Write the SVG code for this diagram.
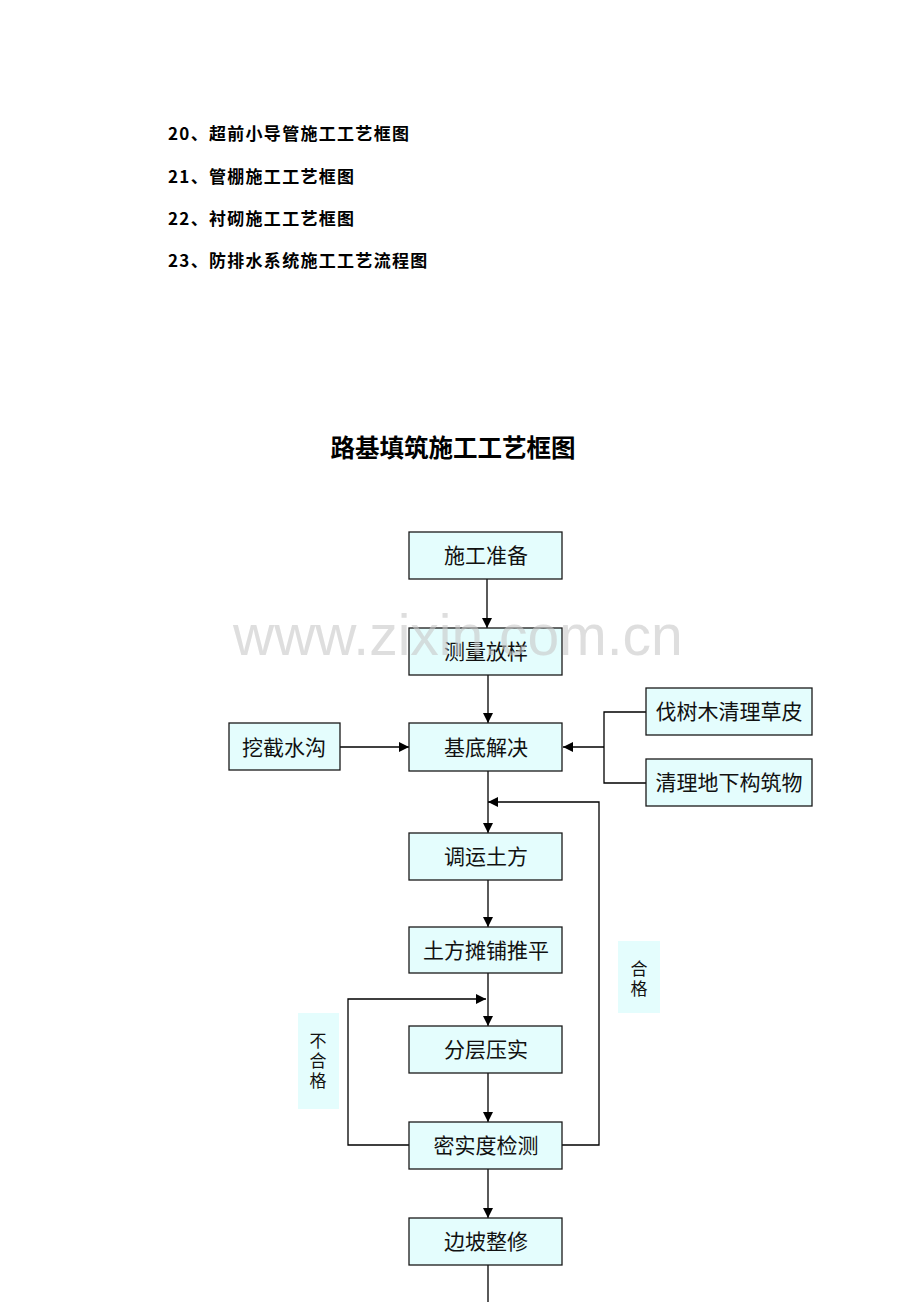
<svg xmlns="http://www.w3.org/2000/svg" width="920" height="1302" viewBox="0 0 920 1302">
<defs>
<style>
.list{font-family:"Noto Sans CJK SC","Liberation Sans",sans-serif;font-size:17px;font-weight:bold;fill:#000;letter-spacing:1.3px}
.title{font-family:"Noto Sans CJK SC",sans-serif;font-size:24.5px;font-weight:bold;fill:#000}
.box{fill:#e4fdfd;stroke:#1a1a1a;stroke-width:1.3}
.bt{font-family:"Noto Sans CJK SC",sans-serif;font-size:21px;fill:#111;text-anchor:middle}
.lbl{fill:#e4fdfd;stroke:none}
.lt{font-family:"Noto Sans CJK SC",sans-serif;font-size:17px;fill:#111;text-anchor:middle}
.ln{fill:none;stroke:#000;stroke-width:1.3}
.wm{font-family:"Liberation Sans",Arial,sans-serif;font-size:57px;fill:#c8c8c8;fill-opacity:0.6}
</style>
<marker id="ah" viewBox="0 0 10 10" refX="10" refY="5" markerWidth="10" markerHeight="10" markerUnits="userSpaceOnUse" orient="auto">
<path d="M0,0 L10,5 L0,10 z" fill="#000"/>
</marker>
</defs>
<rect width="920" height="1302" fill="#fff"/>
<g id="list">
<text class="list" x="168" y="140">20、超前小导管施工工艺框图</text>
<text class="list" x="168" y="183">21、管棚施工工艺框图</text>
<text class="list" x="168" y="225">22、衬砌施工工艺框图</text>
<text class="list" x="168" y="267">23、防排水系统施工工艺流程图</text>
</g>
<text class="title" x="453" y="457" text-anchor="middle">路基填筑施工工艺框图</text>
<g id="connectors">
<line class="ln" x1="487" y1="579" x2="487" y2="628" marker-end="url(#ah)"/>
<line class="ln" x1="488" y1="675" x2="488" y2="723" marker-end="url(#ah)"/>
<line class="ln" x1="340" y1="747" x2="409" y2="747" marker-end="url(#ah)"/>
<polyline class="ln" points="646,712 604,712 604,783 646,783"/>
<line class="ln" x1="604" y1="747" x2="563" y2="747" marker-end="url(#ah)"/>
<line class="ln" x1="488" y1="771" x2="488" y2="833" marker-end="url(#ah)"/>
<polyline class="ln" points="562,1145 599,1145 599,802 488,802" marker-end="url(#ah)"/>
<line class="ln" x1="488" y1="880" x2="488" y2="927" marker-end="url(#ah)"/>
<line class="ln" x1="488" y1="973" x2="488" y2="1026" marker-end="url(#ah)"/>
<polyline class="ln" points="409,1145 348,1145 348,999 486,999" marker-end="url(#ah)"/>
<line class="ln" x1="488" y1="1073" x2="488" y2="1122" marker-end="url(#ah)"/>
<line class="ln" x1="488" y1="1169" x2="488" y2="1218" marker-end="url(#ah)"/>
<line class="ln" x1="488" y1="1265" x2="488" y2="1302"/>
</g>
<g id="n1"><rect class="box" x="409" y="532" width="153" height="47"/><text class="bt" x="486" y="563">施工准备</text></g>
<g id="n2"><rect class="box" x="409" y="628" width="153" height="47"/><text class="bt" x="486" y="659">测量放样</text></g>
<g id="n3"><rect class="box" x="409" y="723" width="153" height="48"/><text class="bt" x="486" y="755">基底解决</text></g>
<g id="n4"><rect class="box" x="229" y="723" width="111" height="47"/><text class="bt" x="284" y="755">挖截水沟</text></g>
<g id="n5"><rect class="box" x="646" y="688" width="166" height="47"/><text class="bt" x="729" y="719">伐树木清理草皮</text></g>
<g id="n6"><rect class="box" x="646" y="759" width="166" height="47"/><text class="bt" x="729" y="790">清理地下构筑物</text></g>
<g id="n7"><rect class="box" x="409" y="833" width="153" height="47"/><text class="bt" x="486" y="864">调运土方</text></g>
<g id="n8"><rect class="box" x="409" y="927" width="153" height="46"/><text class="bt" x="486" y="958">土方摊铺推平</text></g>
<g id="n9"><rect class="box" x="409" y="1026" width="153" height="47"/><text class="bt" x="486" y="1057">分层压实</text></g>
<g id="n10"><rect class="box" x="409" y="1122" width="153" height="47"/><text class="bt" x="486" y="1153">密实度检测</text></g>
<g id="n11"><rect class="box" x="409" y="1218" width="153" height="47"/><text class="bt" x="486" y="1249">边坡整修</text></g>
<g id="lbl-ok"><rect class="lbl" x="618" y="941" width="42" height="72"/><text class="lt" x="639" y="975">合</text><text class="lt" x="639" y="995">格</text></g>
<g id="lbl-ng"><rect class="lbl" x="298" y="1013" width="41" height="96"/><text class="lt" x="318" y="1047">不</text><text class="lt" x="318" y="1067">合</text><text class="lt" x="318" y="1087">格</text></g>
<text class="wm" x="233" y="655">www.zixin.com.cn</text>
</svg>
